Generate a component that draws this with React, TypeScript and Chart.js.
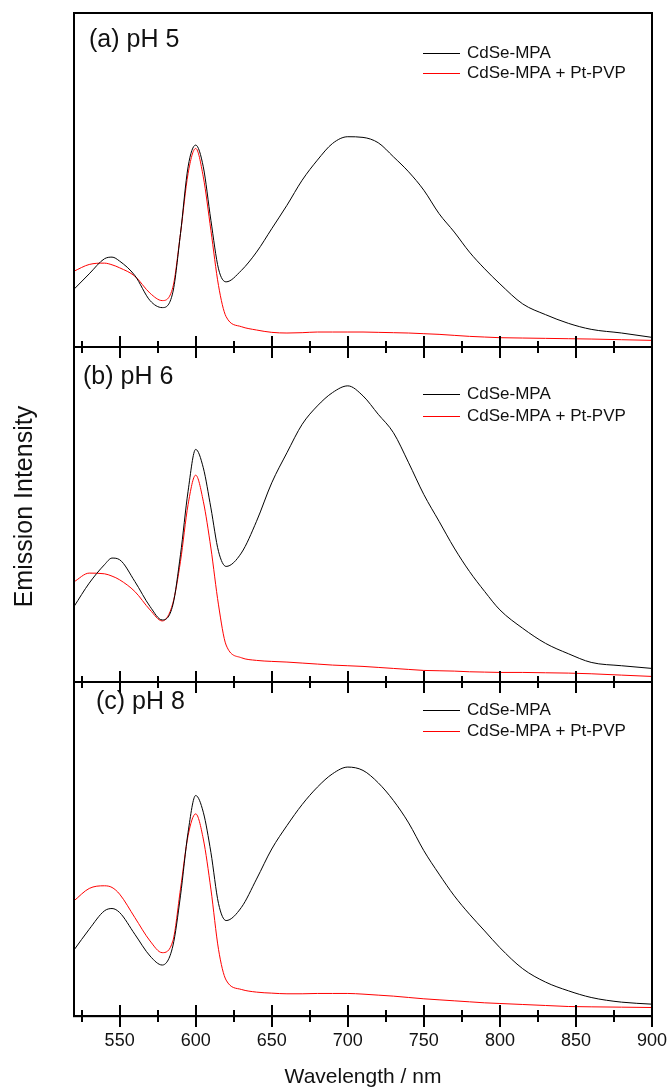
import React, { useEffect, useRef } from "react";
import { Chart, registerables } from "chart.js";

Chart.register(...registerables);

// ---------- data (emission intensity, arbitrary units 0-100 per panel) ----------
const wavelengths = [
  520, 530, 540, 545, 550, 560, 570, 578, 585, 590,
  595, 600, 605, 610, 615, 620, 630, 640, 650, 660,
  670, 680, 690, 700, 710, 720, 730, 740, 750, 760,
  770, 780, 790, 800, 815, 830, 845, 860, 880, 900,
];

const pH5MPA = [
  17.4, 22, 26.5, 27, 25.8, 21.5, 14, 11.9, 16.5, 34,
  54, 60.5, 54, 38, 23.5, 19.6, 23, 28.5, 35.5, 42.5,
  50, 56, 61, 63, 62.8, 61.2, 57, 52.5, 47, 40,
  34.5, 28.5, 23.5, 19, 13, 9.8, 7.2, 5.4, 4.3, 3.0,
];
const pH5MPAPt = [
  22.8, 24.8, 25.2, 24.7, 23.8, 21.3, 16.2, 14, 18, 34,
  52, 59.5, 51, 35, 18.5, 9.2, 6.2, 5.2, 4.5, 4.3,
  4.4, 4.6, 4.6, 4.6, 4.6, 4.5, 4.4, 4.3, 4.1, 3.9,
  3.6, 3.3, 3.1, 2.9, 2.8, 2.7, 2.6, 2.5, 2.3, 2.1,
];

const pH6MPA = [
  22.5, 29.5, 35, 37, 36.5, 30, 22.5, 18.5, 23, 38,
  57, 69.5, 64, 52, 39, 34.5, 38.5, 48, 59.5, 68.5,
  77, 82.5, 86.5, 88.5, 85.5, 80, 74.5, 65.5, 56, 48,
  40, 33, 27, 21.5, 16, 11.5, 8.4, 5.8, 4.8, 4.0,
];
const pH6MPAPt = [
  29.9, 32.5, 32.3, 31.6, 30.5, 27, 21.5, 18.2, 23.5, 36,
  53, 61.8, 54, 40, 23, 11, 7.2, 6.4, 6.1, 5.9,
  5.6, 5.3, 5.0, 4.8, 4.6, 4.3, 4.0, 3.7, 3.4, 3.3,
  3.2, 3.0, 2.9, 2.8, 2.8, 2.7, 2.6, 2.4, 2.0, 1.6,
];

const pH8MPA = [
  19.8, 26, 31.5, 32.2, 31, 24.5, 18, 15.3, 21, 36,
  55, 66, 61, 49, 33.7, 28.6, 32.5, 41, 50, 57,
  63.3, 68.5, 72.5, 74.5, 73.5, 69.8, 64.5, 57.8, 49.5, 42.5,
  36, 30.5, 25.5, 20.5, 14.2, 10.2, 7.6, 5.6, 4.2, 3.6,
];
const pH8MPAPt = [
  34.5, 38.2, 39, 38.5, 36.5, 29.5, 22.5, 19, 22.5, 38,
  54, 60.5, 53, 38, 20, 10.8, 8.0, 7.2, 6.9, 6.7,
  6.7, 6.8, 6.8, 6.8, 6.6, 6.3, 6.0, 5.6, 5.2, 4.9,
  4.6, 4.3, 4.0, 3.8, 3.5, 3.2, 2.9, 2.8, 2.7, 2.6,
];

const panelLabels = ["(a) pH 5", "(b) pH 6", "(c) pH 8"];
const seriesNames = ["CdSe-MPA", "CdSe-MPA + Pt-PVP"];
const xMajorTicks = [550, 600, 650, 700, 750, 800, 850, 900];
const xMinorTicks = [525, 575, 625, 675, 725, 775, 825, 875];
const xTitle = "Wavelength / nm";
const yTitle = "Emission Intensity";

// ---------- layout / style ----------
const W = 670;
const H = 1091;
const FONT = "'Liberation Sans', Arial, Helvetica, sans-serif";
const BLACK = "#000000";
const RED = "#ff0000";
const panelIds = ["yA", "yB", "yC"];
// offsets relative to each panel's top
const panelDecor = [
  { labelDx: 15, labelDy: 27, legendDy: 40, legendGap: 20 },
  { labelDx: 9, labelDy: 30, legendDy: 47, legendGap: 22 },
  { labelDx: 22, labelDy: 20, legendDy: 28, legendGap: 21 },
];

const pts = (arr: number[]) => wavelengths.map((w, i) => ({ x: w, y: arr[i] }));

const overlayPlugin = {
  id: "overlay",
  afterDatasetsDraw(chart: any) {
    const { ctx, chartArea } = chart;
    const xs = chart.scales.x;
    const L = chartArea.left;
    const R = chartArea.right;
    ctx.save();
    ctx.strokeStyle = BLACK;
    ctx.lineWidth = 2;
    ctx.strokeRect(L, chartArea.top, R - L, chartArea.bottom - chartArea.top);
    panelIds.forEach((id, pi) => {
      const s = chart.scales[id];
      const yb = Math.round(s.bottom);
      ctx.lineWidth = 2;
      ctx.beginPath();
      ctx.moveTo(L, yb);
      ctx.lineTo(R, yb);
      ctx.stroke();
      xMajorTicks.forEach((v) => {
        const px = Math.round(xs.getPixelForValue(v));
        ctx.beginPath();
        ctx.moveTo(px, yb - 11);
        ctx.lineTo(px, yb + 11);
        ctx.stroke();
      });
      xMinorTicks.forEach((v) => {
        const px = Math.round(xs.getPixelForValue(v));
        ctx.beginPath();
        ctx.moveTo(px, yb - 6);
        ctx.lineTo(px, yb + 6);
        ctx.stroke();
      });
      const d = panelDecor[pi];
      const top = s.top;
      ctx.fillStyle = "#111";
      ctx.font = `25px ${FONT}`;
      ctx.textAlign = "left";
      ctx.textBaseline = "middle";
      ctx.fillText(panelLabels[pi], L + d.labelDx, top + d.labelDy);
      // legend
      ctx.font = `17px ${FONT}`;
      [BLACK, RED].forEach((c, k) => {
        const ly = Math.round(top + d.legendDy + k * d.legendGap) + 0.5;
        ctx.strokeStyle = c;
        ctx.lineWidth = 1;
        ctx.beginPath();
        ctx.moveTo(423, ly);
        ctx.lineTo(460, ly);
        ctx.stroke();
        ctx.fillStyle = "#111";
        ctx.fillText(seriesNames[k], 467, ly);
      });
      ctx.strokeStyle = BLACK;
    });
    // y title
    ctx.save();
    ctx.translate(32, (chartArea.top + chartArea.bottom) / 2 - 8);
    ctx.rotate(-Math.PI / 2);
    ctx.font = `25px ${FONT}`;
    ctx.fillStyle = "#111";
    ctx.textAlign = "center";
    ctx.textBaseline = "alphabetic";
    ctx.fillText(yTitle, 0, 0);
    ctx.restore();
    ctx.restore();
  },
};

const yScale = (weight: number) => ({
  type: "linear" as const,
  position: "left" as const,
  stack: "panels",
  stackWeight: 1,
  weight,
  min: 0,
  max: 100,
  grid: { display: false, drawTicks: false },
  border: { display: false },
  ticks: { display: false },
});

export default function App() {
  const ref = useRef<HTMLCanvasElement | null>(null);
  useEffect(() => {
    if (!ref.current) return;
    const series = [
      { name: seriesNames[0], data: pH5MPA, axis: "yA", color: BLACK },
      { name: seriesNames[1], data: pH5MPAPt, axis: "yA", color: RED },
      { name: seriesNames[0], data: pH6MPA, axis: "yB", color: BLACK },
      { name: seriesNames[1], data: pH6MPAPt, axis: "yB", color: RED },
      { name: seriesNames[0], data: pH8MPA, axis: "yC", color: BLACK },
      { name: seriesNames[1], data: pH8MPAPt, axis: "yC", color: RED },
    ];
    const chart = new Chart(ref.current, {
      type: "line",
      data: {
        datasets: series.map((s) => ({
          label: s.name,
          data: pts(s.data),
          yAxisID: s.axis,
          borderColor: s.color,
          backgroundColor: s.color,
          borderWidth: 1,
          pointRadius: 0,
          fill: false,
          cubicInterpolationMode: "monotone" as const,
        })),
      },
      options: {
        responsive: false,
        animation: false,
        devicePixelRatio: 1,
        layout: { autoPadding: false, padding: { left: 74, right: 18, top: 13, bottom: 0 } },
        plugins: {
          legend: { display: false },
          tooltip: { enabled: false },
          title: { display: false },
        },
        scales: {
          x: {
            type: "linear",
            position: "bottom",
            min: 520,
            max: 900,
            afterBuildTicks: (scale: any) => {
              scale.ticks = xMajorTicks.map((v) => ({ value: v }));
            },
            grid: { display: false, drawTicks: true, tickLength: 14 },
            border: { display: false },
            ticks: {
              padding: 0,
              maxRotation: 0,
              autoSkip: false,
              color: "#111",
              font: { family: FONT, size: 18 },
              callback: (v: any) => String(v),
            },
            title: {
              display: true,
              text: xTitle,
              color: "#111",
              font: { family: FONT, size: 21 },
              padding: { top: 13, bottom: 1 },
            },
          },
          yC: yScale(1),
          yB: yScale(2),
          yA: yScale(3),
        } as any,
      },
      plugins: [overlayPlugin],
    });
    return () => chart.destroy();
  }, []);
  return (
    <div style={{ position: "fixed", left: 0, top: 0, width: W, height: H, background: "#fff" }}>
      <canvas ref={ref} width={W} height={H} style={{ display: "block", width: W, height: H }} />
    </div>
  );
}
